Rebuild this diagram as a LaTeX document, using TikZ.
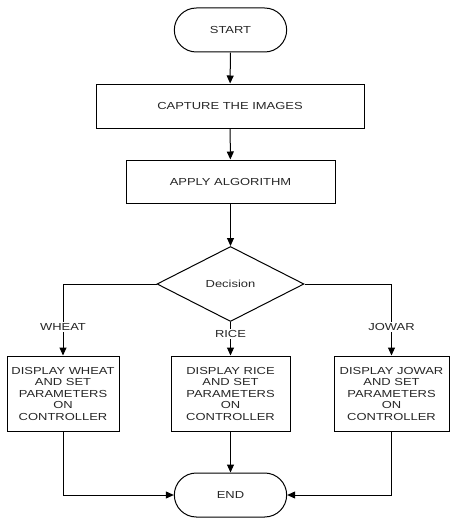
\documentclass[tikz,border=0pt]{standalone}
\usepackage{fontspec}
\setmainfont{Liberation Sans}[FakeStretch=1.27]
\usepackage{tikz}
\usetikzlibrary{arrows.meta, positioning, shapes.geometric, shapes.misc}

\begin{document}
\begin{tikzpicture}[
    x=1pt, y=-1pt,
    every node/.style={font=\fontsize{10.2}{11.5}\selectfont, text=black!85},
    terminal/.style={rounded rectangle, draw, line width=1pt, minimum width=119pt, minimum height=44pt},
    process/.style={rectangle, draw, line width=1pt, minimum height=44pt, align=center},
    display/.style={rectangle, draw, line width=1pt, minimum height=75pt, align=center, inner sep=1pt},
    decide/.style={diamond, draw, line width=1pt, minimum width=147pt, minimum height=75pt, inner sep=0pt},
    branch/.style={fill=white, inner sep=1pt},
    flow/.style={line width=1pt, -{Triangle[length=8pt, width=7pt]}}
]
    \useasboundingbox (0,0) rectangle (450,519);

    % main column
    \node[terminal] (start) at (230.5,30) {START};
    \node[process, minimum width=268pt] (capture) at (230,106) {CAPTURE THE IMAGES};
    \node[process, minimum width=209pt, minimum height=43pt] (apply) at (230.5,181.5) {APPLY ALGORITHM};
    \node[decide] (decision) at (230.5,284) {Decision};

    % three crops
    \node[display, minimum width=112pt] (wheat) at (63,393.5) {DISPLAY WHEAT\\AND SET\\PARAMETERS\\ON\\CONTROLLER};
    \node[display, minimum width=119pt] (rice) at (230.5,393.5) {DISPLAY RICE\\AND SET\\PARAMETERS\\ON\\CONTROLLER};
    \node[display, minimum width=115pt] (jowar) at (391.5,393.5) {DISPLAY JOWAR\\AND SET\\PARAMETERS\\ON\\CONTROLLER};

    \node[terminal] (end) at (230.5,495) {END};

    \draw[flow] (start) -- (capture);
    \draw[flow] (capture) -- (apply);
    \draw[flow] (apply) -- (decision);
    \draw[flow] (decision.west) -| (wheat.north);
    \draw[flow] (decision.south) -- (rice.north);
    \draw[flow] (decision.east) -| (jowar.north);
    \draw[flow] (wheat.south) |- (end.west);
    \draw[flow] (rice.south) -- (end.north);
    \draw[flow] (jowar.south) |- (end.east);

    % branch labels
    \node[branch] (lwheat) at (63,327) {WHEAT};
    \node[branch] (lrice) at (230.5,334) {RICE};
    \node[branch] (ljowar) at (391.5,327) {JOWAR};
\end{tikzpicture}
\end{document}
